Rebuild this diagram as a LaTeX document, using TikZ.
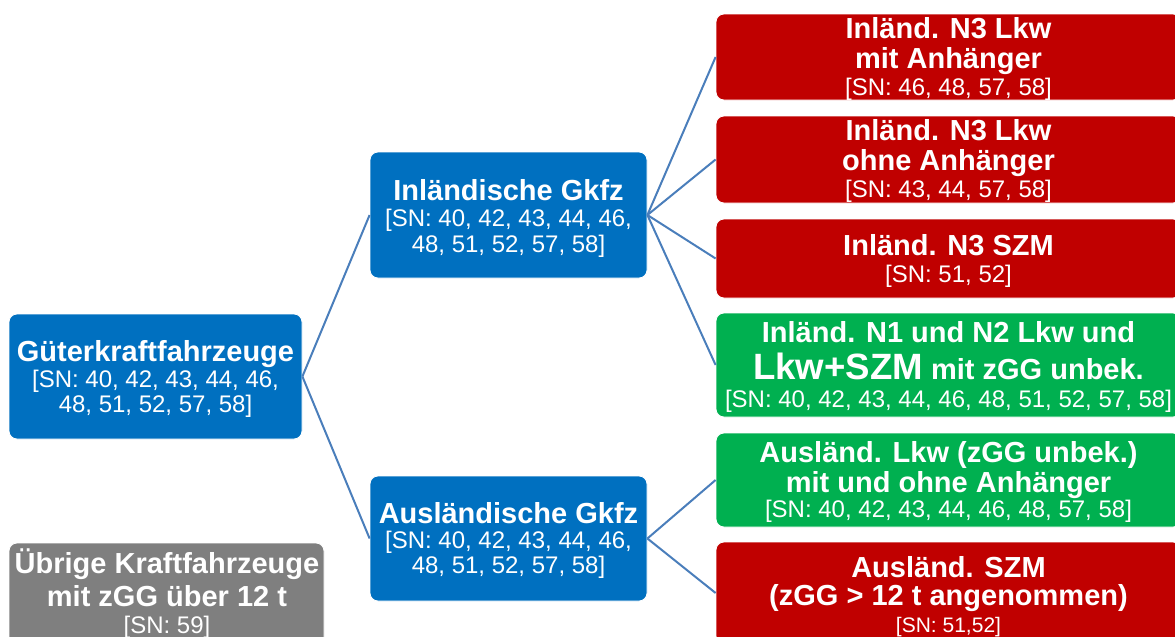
\documentclass[tikz,border=0pt]{standalone}
\usepackage{fontspec}
\setmainfont{Liberation Sans}
\definecolor{cblue}{HTML}{0070C0}
\definecolor{cred}{HTML}{C00000}
\definecolor{cgreen}{HTML}{00B050}
\definecolor{cgray}{HTML}{7F7F7F}
\definecolor{cline}{HTML}{4A7EBB}
\newcommand\lines[1]{\vtop{\baselineskip=0pt\lineskiplimit=-1000pt\lineskip=0pt\halign{\hfil##\hfil\cr#1\crcr}}}
\newcommand\nl[1]{\cr\noalign{\vskip#1pt}}
\newcommand\hd[1]{{\fontsize{29}{0}\selectfont\bfseries #1}}
\newcommand\hdbig[1]{{\fontsize{36.6}{0}\selectfont\bfseries #1}}
\newcommand\snr[1]{{\fontsize{24}{0}\selectfont #1}}
\newcommand\snsmall[1]{{\fontsize{21}{0}\selectfont #1}}
\tikzset{
  box/.style={rectangle, rounded corners=8pt, draw=white, line width=0.8pt, inner sep=0pt},
  txt/.style={text=white, inner sep=0pt, anchor=base},
  conn/.style={draw=cline, line width=2pt},
}
\begin{document}
\begin{tikzpicture}[x=1pt,y=-1pt]
\useasboundingbox (0,0) rectangle (1175,637);
\clip (0,0) rectangle (1175,637);
% boxes
\node[box, fill=cblue, minimum width=293pt, minimum height=125pt] (gkf) at (155.5,376.5) {};
\node[box, fill=cgray, minimum width=315pt, minimum height=117pt] (ueb) at (166.5,601.5) {};
\node[box, fill=cblue, minimum width=277pt, minimum height=126pt] (inl) at (508.5,215) {};
\node[box, fill=cblue, minimum width=277pt, minimum height=125pt] (aus) at (508.5,538.5) {};
\node[box, fill=cred, minimum width=465pt, minimum height=86pt] (r1) at (948.5,57) {};
\node[box, fill=cred, minimum width=465pt, minimum height=87pt] (r2) at (948.5,159.5) {};
\node[box, fill=cred, minimum width=465pt, minimum height=79pt] (r3) at (948.5,258.5) {};
\node[box, fill=cgreen, minimum width=465pt, minimum height=104pt] (g4) at (948.5,365) {};
\node[box, fill=cgreen, minimum width=465pt, minimum height=94pt] (g5) at (948.5,480) {};
\node[box, fill=cred, minimum width=465pt, minimum height=102pt] (r6) at (948.5,593) {};
% connectors
\draw[conn] (gkf.east) -- (inl.west);
\draw[conn] (gkf.east) -- (aus.west);
\draw[conn] (inl.east) -- (r1.west);
\draw[conn] (inl.east) -- (r2.west);
\draw[conn] (inl.east) -- (r3.west);
\draw[conn] (inl.east) -- (g4.west);
\draw[conn] (aus.east) -- (g5.west);
\draw[conn] (aus.east) -- (r6.west);
% texts
\node[txt] (tgkf) at (155.5,361) {\lines{\hd{Güterkraftfahrzeuge}\nl{26}\snr{[SN: 40, 42, 43, 44, 46,}\nl{25}\snr{48, 51, 52, 57, 58]}}};
\node[txt] (tueb) at (167,573) {\lines{\hd{Übrige Kraftfahrzeuge}\nl{33}\hd{mit zGG über 12 t}\nl{27}\snr{[SN: 59]}}};
\node[txt] (tinl) at (508.5,200) {\lines{\hd{Inländische Gkfz}\nl{26}\snr{[SN: 40, 42, 43, 44, 46,}\nl{26}\snr{48, 51, 52, 57, 58]}}};
\node[txt] (taus) at (508.5,523) {\lines{\hd{Ausländische Gkfz}\nl{25}\snr{[SN: 40, 42, 43, 44, 46,}\nl{25}\snr{48, 51, 52, 57, 58]}}};
\node[txt] (tr1) at (948.5,38) {\lines{\hd{Inländ. N3 Lkw}\nl{30}\hd{mit Anhänger}\nl{27}\snr{[SN: 46, 48, 57, 58]}}};
\node[txt] (tr2) at (948.5,140) {\lines{\hd{Inländ. N3 Lkw}\nl{30}\hd{ohne Anhänger}\nl{27}\snr{[SN: 43, 44, 57, 58]}}};
\node[txt] (tr3) at (948.5,255) {\lines{\hd{Inländ. N3 SZM}\nl{27}\snr{[SN: 51, 52]}}};
\node[txt] (tg4) at (948.5,342) {\lines{\hd{Inländ. N1 und N2 Lkw und}\nl{37}\hdbig{Lkw+SZM}\hd{ mit zGG unbek.}\nl{28}\snr{[SN: 40, 42, 43, 44, 46, 48, 51, 52, 57, 58]}}};
\node[txt] (tg5) at (948.5,462) {\lines{\hd{Ausländ. Lkw (zGG unbek.)}\nl{30}\hd{mit und ohne Anhänger}\nl{25}\snr{[SN: 40, 42, 43, 44, 46, 48, 57, 58]}}};
\node[txt] (tr6) at (948.5,577) {\lines{\hd{Ausländ. SZM}\nl{28}\hd{(zGG > 12 t angenommen)}\nl{27}\snsmall{[SN: 51,52]}}};
\end{tikzpicture}
\end{document}
